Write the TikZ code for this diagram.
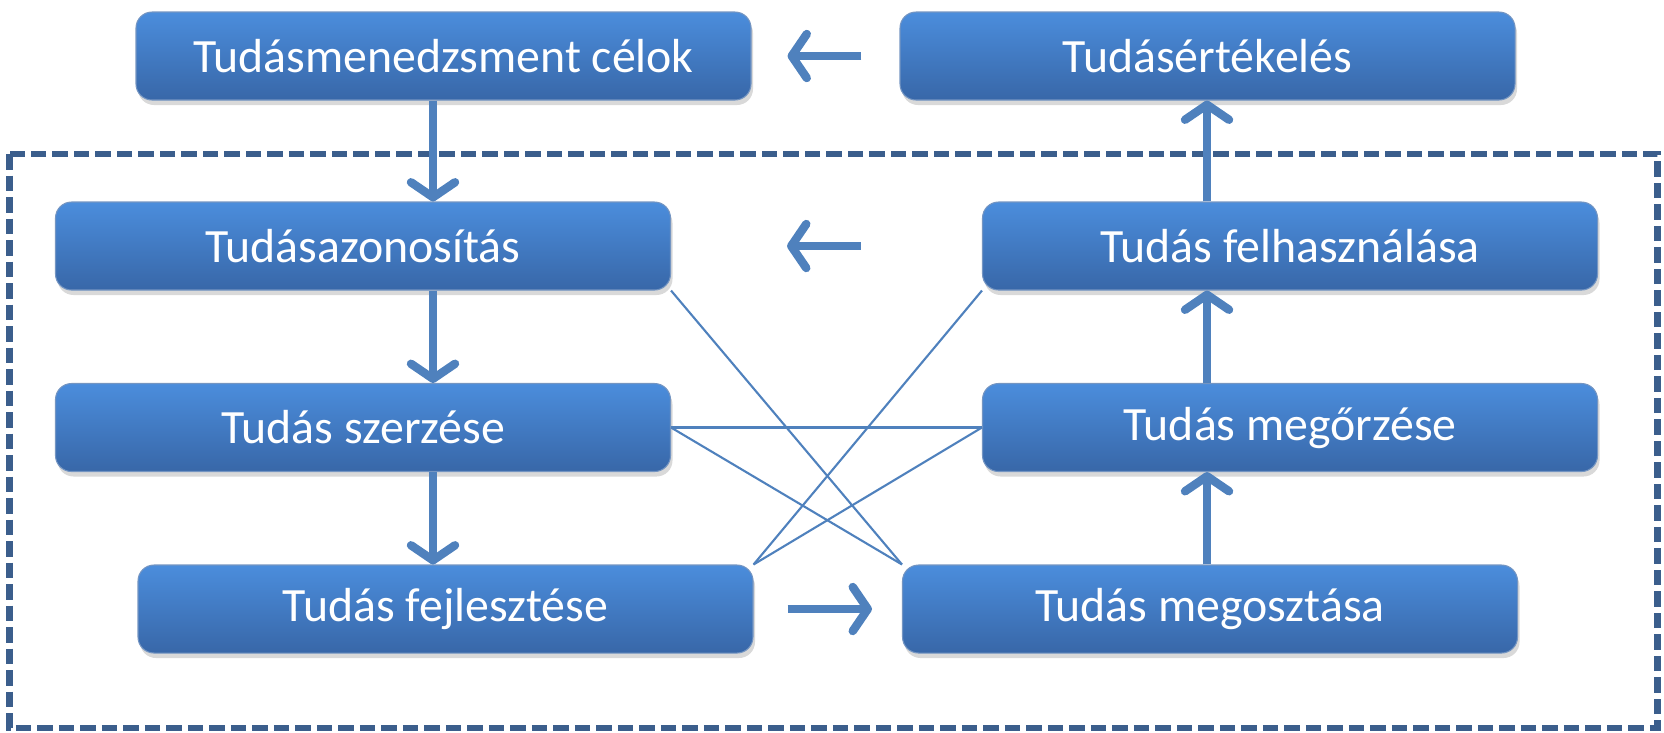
\documentclass[tikz,border=0pt]{standalone}
\usepackage{fontspec}
\setmainfont{Carlito}
\usetikzlibrary{arrows.meta,shadows}

\definecolor{boxtop}{HTML}{4B8DDC}
\definecolor{boxbot}{HTML}{3867A8}
\definecolor{arrowblue}{HTML}{4F81BD}
\definecolor{frameblue}{HTML}{3B5E8C}

\begin{document}
\begin{tikzpicture}[
    stage/.style={rounded corners=0.16cm, minimum width=6.15cm, minimum height=0.88cm,
      top color=boxtop, bottom color=boxbot, draw=boxbot!70!white, line width=0.3pt,
      drop shadow={shadow xshift=0.02cm, shadow yshift=-0.05cm, opacity=0.3},
      text=white, font=\fontsize{13.6}{16}\selectfont, inner sep=0pt},
    flow/.style={draw=arrowblue, line width=2.2pt,
      -{Straight Barb[length=1.5mm,width=4.4mm,line width=2.4pt,round]}},
    link/.style={draw=arrowblue, line width=0.6pt},
    frame/.style={draw=frameblue, line width=1.8pt, dash pattern=on 0.155cm off 0.06cm}
  ]
  \useasboundingbox (0,0) rectangle (16.64,-7.32);

  % dashed frame round the process
  \draw[frame] (0.095,-1.54) rectangle (16.575,-7.28);

  % boxes
  \node[stage] (celok) at (4.435,-0.56) {Tudásmenedzsment célok};
  \node[stage] (ertek) at (12.075,-0.56) {Tudásértékelés};
  \node[stage] (azon) at (3.63,-2.46) {Tudásazonosítás};
  \node[stage] (felh) at (12.90,-2.46) {Tudás felhasználása};
  \node[stage] (szerz) at (3.63,-4.275) {Tudás szerzése};
  \node[stage] (megor) at (12.90,-4.275) {Tudás megőrzése};
  \node[stage] (fejl) at (4.455,-6.09) {Tudás fejlesztése};
  \node[stage] (megoszt) at (12.10,-6.09) {Tudás megosztása};

  \coordinate (lcol) at (4.33,0);
  \coordinate (rcol) at (12.07,0);

  % main flow
  \draw[flow] (celok.south -| lcol) -- (azon.north -| lcol);
  \draw[flow] (azon.south -| lcol) -- (szerz.north -| lcol);
  \draw[flow] (szerz.south -| lcol) -- (fejl.north -| lcol);
  \draw[flow, shorten <=0.34cm, shorten >=0.30cm] (fejl.east) -- (megoszt.west);
  \draw[flow] (megoszt.north -| rcol) -- (megor.south -| rcol);
  \draw[flow] (megor.north -| rcol) -- (felh.south -| rcol);
  \draw[flow] (felh.north -| rcol) -- (ertek.south -| rcol);
  \draw[flow, shorten <=1.21cm, shorten >=1.16cm] (felh.west) -- (azon.east);
  \draw[flow, shorten <=0.38cm, shorten >=0.36cm] (ertek.west) -- (celok.east);

  % thin links
  \draw[link] (azon.south east) -- (megoszt.north west);
  \draw[link] (szerz.east) -- (megor.west);
  \draw[link] (szerz.east) -- (megoszt.north west);
  \draw[link] (felh.south west) -- (fejl.north east);
  \draw[link] (megor.west) -- (fejl.north east);
\end{tikzpicture}
\end{document}
